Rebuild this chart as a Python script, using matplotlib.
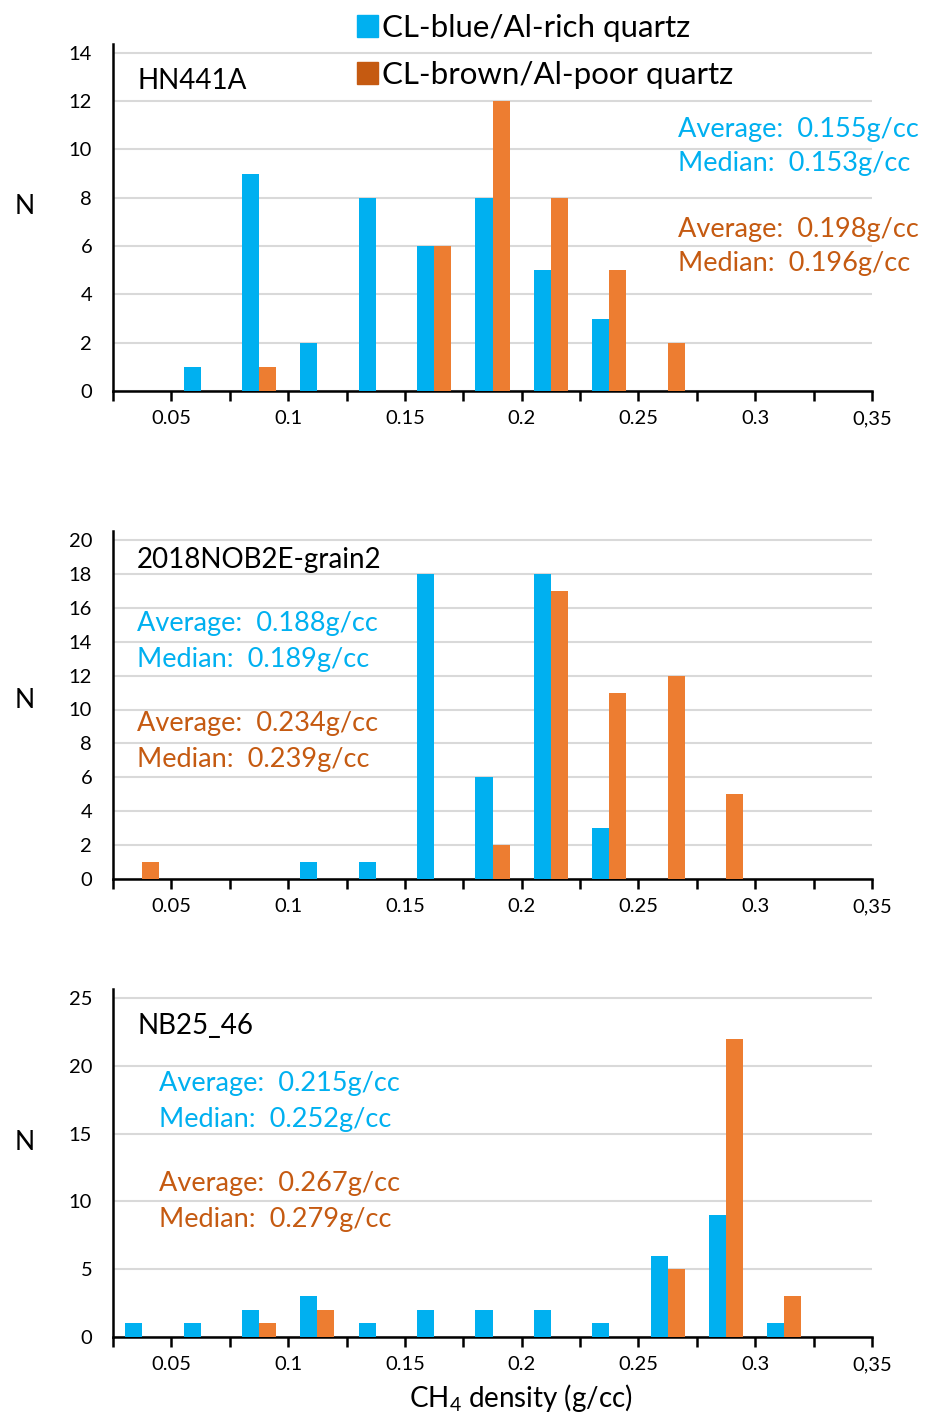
import matplotlib
matplotlib.use("Agg")
import matplotlib.pyplot as plt
from matplotlib.patches import Patch
import numpy as np

plt.rcParams['font.family'] = ['Lato', 'DejaVu Sans']
plt.rcParams['mathtext.fontset'] = 'custom'
plt.rcParams['mathtext.rm'] = 'Lato'

# ---------------- data ----------------
bin_centers = [0.0375, 0.0625, 0.0875, 0.1125, 0.1375, 0.1625, 0.1875,
               0.2125, 0.2375, 0.2625, 0.2875, 0.3125, 0.3375]

samples = ["HN441A", "2018NOB2E-grain2", "NB25_46"]

hn_blue   = [0, 1, 9, 2, 8, 6, 8, 5, 3, 0, 0, 0, 0]
hn_orange = [0, 0, 1, 0, 0, 6, 12, 8, 5, 2, 0, 0, 0]

nob_blue   = [0, 0, 0, 1, 1, 18, 6, 18, 3, 0, 0, 0, 0]
nob_orange = [1, 0, 0, 0, 0, 0, 2, 17, 11, 12, 5, 0, 0]

nb_blue   = [1, 1, 2, 3, 1, 2, 2, 2, 1, 6, 9, 1, 0]
nb_orange = [0, 0, 1, 2, 0, 0, 0, 0, 0, 5, 22, 3, 0]

blue_stats = [("0.155", "0.153"), ("0.188", "0.189"), ("0.215", "0.252")]
orange_stats = [("0.198", "0.196"), ("0.234", "0.239"), ("0.267", "0.279")]

y_max = [14, 20, 25]
y_step = [2, 2, 5]

x_ticks = [0.025, 0.05, 0.075, 0.1, 0.125, 0.15, 0.175, 0.2, 0.225, 0.25,
           0.275, 0.3, 0.325, 0.35]
x_ticklabels = ["", "0.05", "", "0.1", "", "0.15", "", "0.2", "", "0.25",
                "", "0.3", "", "0,35"]

legend_labels = ["CL-blue/Al-rich quartz", "CL-brown/Al-poor quartz"]
# --------------------------------------

BLUE = "#00B0F0"
ORANGE = "#ED7D31"
ORANGE_TXT = "#C55A11"

W, H = 926, 1417
fig = plt.figure(figsize=(W / 100, H / 100), dpi=100)

blues = [hn_blue, nob_blue, nb_blue]
oranges = [hn_orange, nob_orange, nb_orange]

# pixel geometry: (top gridline px, bottom px)
geo = [(52.7, 391), (540, 879), (998, 1337)]
pad = 9
left_px, right_px = 113, 872

title_pos = [(137, 81), (137, 560), (137, 1026)]
stat_pos = [(678, [129, 164, 229, 264]), (137, [623, 659, 723, 759]),
            (159, [1084, 1119, 1184, 1220])]
n_y = [207, 700, 1142]

bw = 0.0073
centers = np.array(bin_centers)

for i in range(3):
    gtop, bot = geo[i]
    top = gtop - pad
    ax = fig.add_axes([left_px / W, 1 - bot / H, (right_px - left_px) / W, (bot - top) / H])
    ymax = y_max[i]
    ytop = ymax * (bot - top) / (bot - gtop)
    ax.bar(centers - bw / 2, blues[i], width=bw, color=BLUE, zorder=3)
    ax.bar(centers + bw / 2, oranges[i], width=bw, color=ORANGE, zorder=3)
    ax.set_xlim(0.025, 0.35)
    ax.set_ylim(0, ytop)
    ax.set_yticks(np.arange(0, ymax + 0.1, y_step[i]))
    ax.set_xticks(x_ticks)
    ax.set_xticklabels(x_ticklabels)
    ax.yaxis.grid(True, color="#D9D9D9", linewidth=1.5, zorder=0)
    ax.set_axisbelow(True)
    for s in ["top", "right"]:
        ax.spines[s].set_visible(False)
    ax.spines["left"].set_linewidth(1.8)
    ax.spines["bottom"].set_linewidth(1.8)
    ax.tick_params(axis="x", direction="out", length=7, width=1.8, labelsize=14.5, pad=7)
    ax.tick_params(axis="y", length=0, labelsize=14.5, pad=15)

    fig.text(25 / W, 1 - n_y[i] / H, "N", fontsize=19, va="center", ha="center")

    tx, ty = title_pos[i]
    fig.text(tx / W, 1 - ty / H, samples[i], fontsize=20, va="center", ha="left")
    sx, sys_ = stat_pos[i]
    kw = dict(fontsize=19.5, va="center", ha="left")
    fig.text(sx / W, 1 - sys_[0] / H, "Average:  %sg/cc" % blue_stats[i][0], color=BLUE, **kw)
    fig.text(sx / W, 1 - sys_[1] / H, "Median:  %sg/cc" % blue_stats[i][1], color=BLUE, **kw)
    fig.text(sx / W, 1 - sys_[2] / H, "Average:  %sg/cc" % orange_stats[i][0], color=ORANGE_TXT, **kw)
    fig.text(sx / W, 1 - sys_[3] / H, "Median:  %sg/cc" % orange_stats[i][1], color=ORANGE_TXT, **kw)

    if i == 2:
        ax.set_xlabel(r"CH$_\mathregular{4}$ density (g/cc)", fontsize=20)
        ax.xaxis.set_label_coords((521 - left_px) / (right_px - left_px),
                                  -(1398 - bot) / (bot - top), transform=ax.transAxes)
        ax.xaxis.label.set_va("center")

handles = [Patch(color=BLUE), Patch(color=ORANGE_TXT)]
fig.legend(handles, legend_labels, loc="upper left", bbox_to_anchor=(344 / W, 1 - 1 / H),
           frameon=False, fontsize=22.5, handlelength=0.7, handleheight=0.7,
           handletextpad=0.1, labelspacing=0.62, borderaxespad=0)

fig.savefig("out.png", dpi=100)
